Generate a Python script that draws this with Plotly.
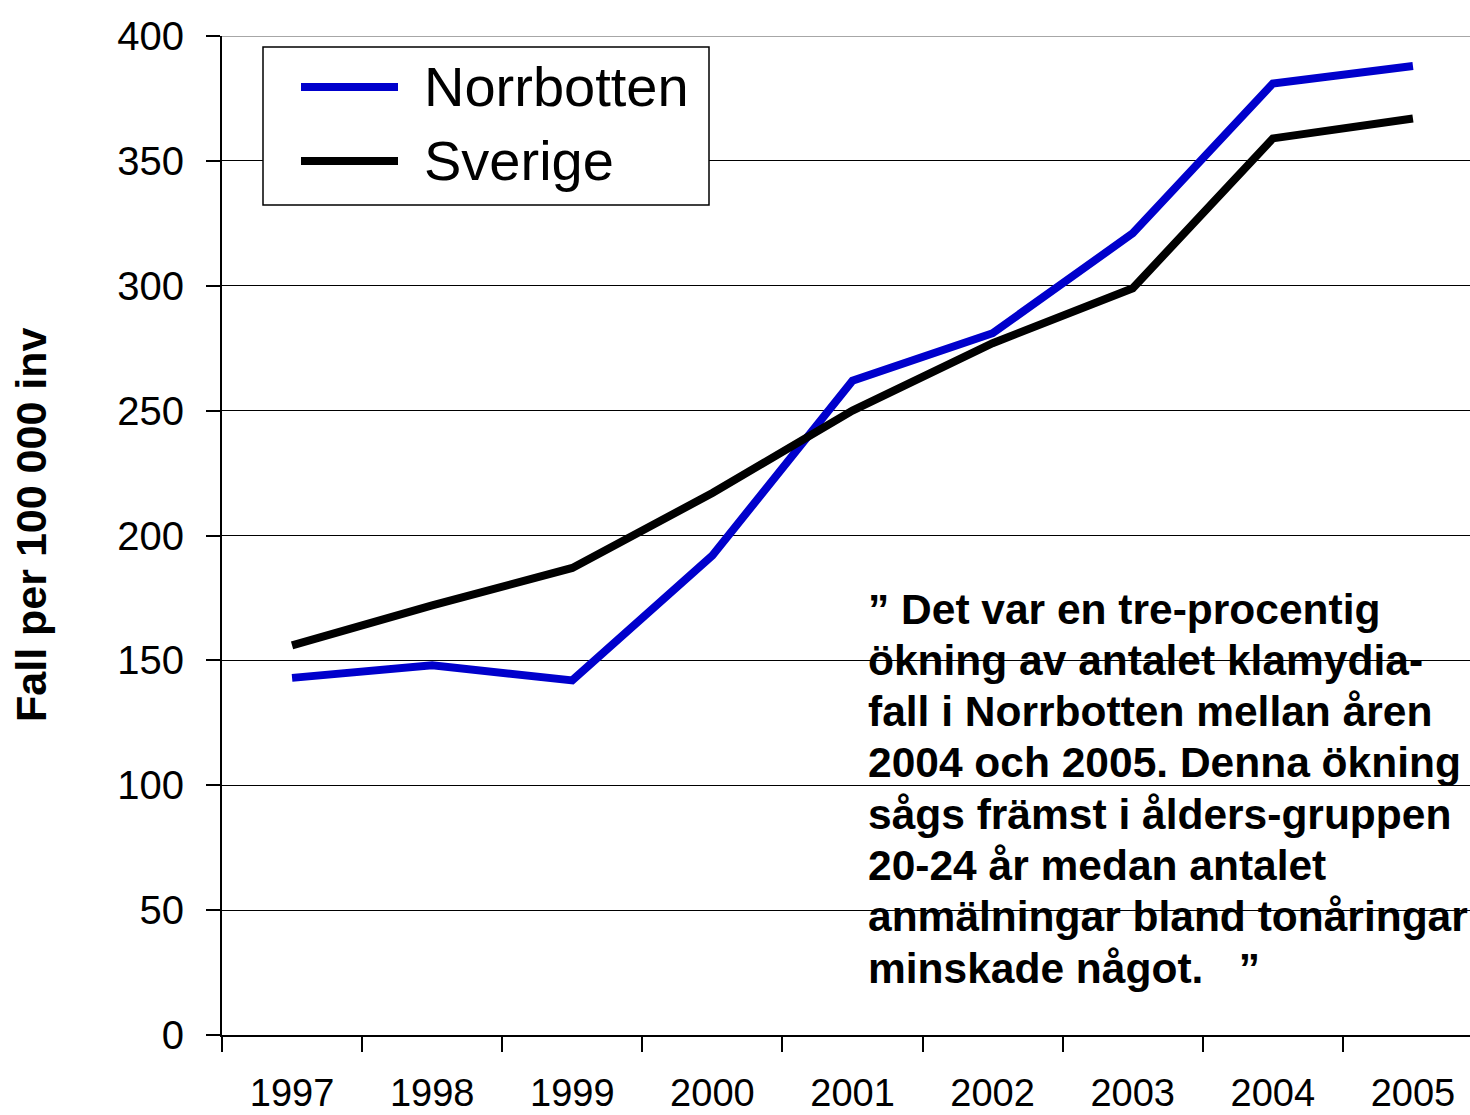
import plotly.graph_objects as go

years = ["1997", "1998", "1999", "2000", "2001", "2002", "2003", "2004", "2005"]
norrbotten = [143, 148, 142, 192, 262, 281, 321, 381, 388]
sverige = [156, 172, 187, 217, 250, 277, 299, 359, 367]
y_ticks = [0, 50, 100, 150, 200, 250, 300, 350, 400]
series_names = ["Norrbotten", "Sverige"]
series_colors = ["#0000CC", "#000000"]
note_lines = [
    "” Det var en tre-procentig",
    "ökning av antalet klamydia-",
    "fall i Norrbotten mellan åren",
    "2004 och 2005. Denna ökning",
    "sågs främst i ålders-gruppen",
    "20-24 år medan antalet",
    "anmälningar bland tonåringar",
    "minskade något.   ”",
]
y_title = "Fall per 100 000 inv"

W, H = 1470, 1115
L, R, T, B = 222, 0, 36, 80
PW, PH = W - L - R, H - T - B


def px(x):
    return (x - L) / PW


def py(y):
    return (H - B - y) / PH


FONT = "Liberation Sans, Arial, sans-serif"

fig = go.Figure()
for name, vals, col in zip(series_names, [norrbotten, sverige], series_colors):
    fig.add_trace(go.Scatter(x=years, y=vals, mode="lines", name=name,
                             line=dict(color=col, width=8), showlegend=False,
                             hoverinfo="skip"))

fig.update_layout(
    width=W, height=H,
    margin=dict(l=L, r=R, t=T, b=B, pad=0, autoexpand=False),
    paper_bgcolor="white", plot_bgcolor="white",
    font=dict(family=FONT, color="black", size=40),
    xaxis=dict(type="category", range=[-0.5, 8.5 - 13 / 140], automargin=False,
               tickson="boundaries", ticks="outside", ticklen=15, tickwidth=1.5,
               tickcolor="black", showline=True, linecolor="black", linewidth=2,
               showgrid=False, tickfont=dict(size=38), ticklabelstandoff=23),
    yaxis=dict(range=[0, 400], tickvals=y_ticks, ticks="outside", ticklen=14,
               automargin=False,
               tickwidth=1.5, tickcolor="black", showline=True, linecolor="black",
               linewidth=2, showgrid=True, gridcolor="black", gridwidth=1,
               zeroline=False, tickfont=dict(size=40), ticklabelstandoff=14),
)

# top gridline lighter
fig.add_shape(type="line", xref="paper", yref="y", x0=0, x1=1, y0=400, y1=400,
              line=dict(color="#8a8a8a", width=1.5), layer="above")

# legend box
fig.add_shape(type="rect", xref="paper", yref="paper", x0=px(263), x1=px(709),
              y0=py(205), y1=py(47), line=dict(color="black", width=1.5),
              fillcolor="white", layer="above")
for i, (name, col) in enumerate(zip(series_names, series_colors)):
    yy = [87, 161][i]
    fig.add_shape(type="line", xref="paper", yref="paper", x0=px(301), x1=px(398),
                  y0=py(yy), y1=py(yy), line=dict(color=col, width=8), layer="above")
    fig.add_annotation(text=name, xref="paper", yref="paper", x=px(422), y=py(yy),
                       xanchor="left", yanchor="middle", showarrow=False,
                       font=dict(size=56, family=FONT, color="black"))

# y title
fig.add_annotation(text=f"<b>{y_title}</b>", xref="paper", yref="paper",
                   x=px(31), y=py(525), textangle=-90, xanchor="center",
                   yanchor="middle", showarrow=False,
                   font=dict(size=43, family=FONT, color="black"))

# note text
for i, line in enumerate(note_lines):
    fig.add_annotation(text=f"<b>{line}</b>", xref="paper", yref="paper",
                       x=px(866), y=py(609 + i * 51.3), xanchor="left",
                       yanchor="middle", showarrow=False,
                       font=dict(size=42.5, family=FONT, color="black"))

fig.write_html(
    "out.html",
    config={"displayModeBar": False},
    post_script="document.body.style.margin='0';document.body.style.overflow='hidden';",
)
